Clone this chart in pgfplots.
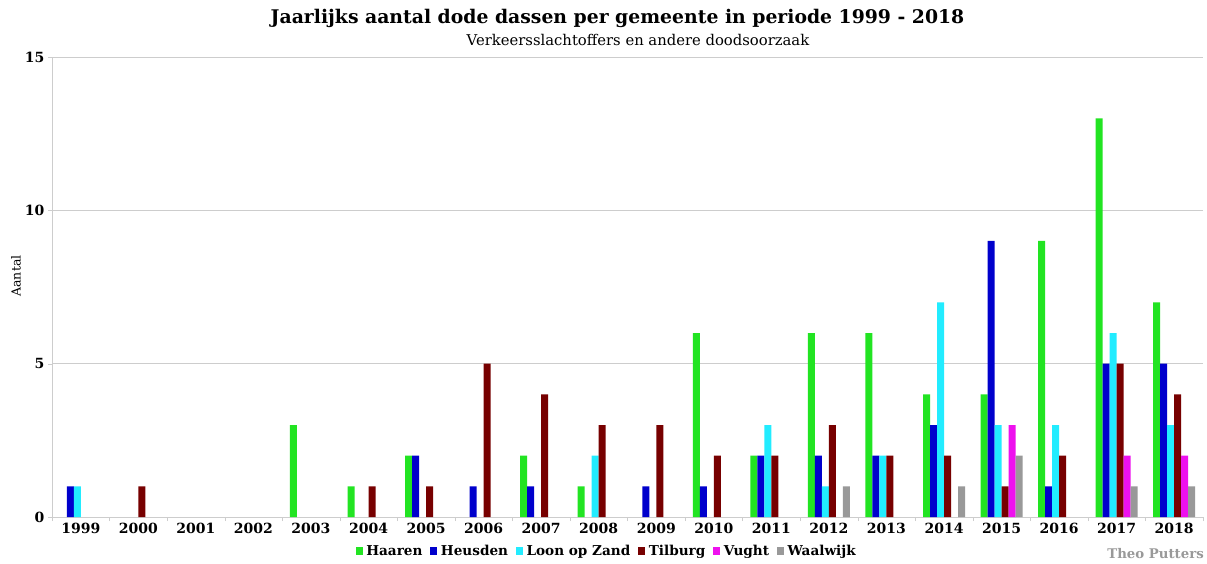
\documentclass[border=0pt]{standalone}
\usepackage{pgfplots}
\pgfplotsset{compat=1.18}
\usepackage{fontspec}
\setmainfont{DejaVu Serif}
\definecolor{cHaaren}{RGB}{34,228,34}
\definecolor{cHeusden}{RGB}{0,0,204}
\definecolor{cLoon}{RGB}{34,236,255}
\definecolor{cTilburg}{RGB}{119,0,0}
\definecolor{cVught}{RGB}{238,17,238}
\definecolor{cWaal}{RGB}{153,153,153}
\definecolor{gridc}{RGB}{205,205,205}
\begin{document}
\begin{tikzpicture}[x=1pt,y=1pt]
\useasboundingbox[fill=white] (0,0) rectangle (1207,563);
\begin{axis}[
  at={(52pt,46pt)}, anchor=south west,
  scale only axis, width=1151pt, height=460pt,
  xmin=-0.5, xmax=19.5, ymin=0, ymax=15,
  ybar=0pt, bar width=7pt,
  axis x line*=bottom, axis y line*=left,
  axis line style={gridc, line width=0.8pt},
  xtick={0,...,19},
  xticklabels={1999,2000,2001,2002,2003,2004,2005,2006,2007,2008,2009,2010,2011,2012,2013,2014,2015,2016,2017,2018},
  major x tick style={draw=none},
  minor xtick={-0.5,0.5,...,19.5},
  minor x tick style={gridc},
  minor tick length=4pt,
  ytick={0,5,10,15},
  ymajorgrids, major grid style={gridc, line width=0.8pt},
  major y tick style={gridc},
  major tick length=4pt,
  tick align=outside,
  /pgf/number format/assume math mode=true,
  ticklabel style={font=\fontsize{14}{16}\selectfont\bfseries},
  xticklabel style={yshift=1pt},
  legend columns=6,
  legend style={at={(0.482,-0.074)}, anchor=center, draw=none, fill=none,
    font=\fontsize{13.6}{16}\selectfont\bfseries,
    /tikz/every odd column/.append style={column sep=1.5pt},
    /tikz/every even column/.append style={column sep=6pt}},
  legend image code/.code={\fill[#1] (0pt,-3.5pt) rectangle (7pt,4pt);},
  every axis plot/.append style={draw=none},
]
\addplot[fill=cHaaren] coordinates {(4,3)(5,1)(6,2)(8,2)(9,1)(11,6)(12,2)(13,6)(14,6)(15,4)(16,4)(17,9)(18,13)(19,7)};
\addplot[fill=cHeusden] coordinates {(0,1)(6,2)(7,1)(8,1)(10,1)(11,1)(12,2)(13,2)(14,2)(15,3)(16,9)(17,1)(18,5)(19,5)};
\addplot[fill=cLoon] coordinates {(0,1)(9,2)(12,3)(13,1)(14,2)(15,7)(16,3)(17,3)(18,6)(19,3)};
\addplot[fill=cTilburg] coordinates {(1,1)(5,1)(6,1)(7,5)(8,4)(9,3)(10,3)(11,2)(12,2)(13,3)(14,2)(15,2)(16,1)(17,2)(18,5)(19,4)};
\addplot[fill=cVught] coordinates {(16,3)(18,2)(19,2)};
\addplot[fill=cWaal] coordinates {(13,1)(15,1)(16,2)(18,1)(19,1)};
\legend{Haaren,Heusden,Loon op Zand,Tilburg,Vught,Waalwijk}
\end{axis}
\node[rotate=90, font=\fontsize{12.5}{14}\selectfont] at (16,287) {Aantal};
\node[font=\fontsize{18.8}{21}\selectfont\bfseries] at (617.5,545) {Jaarlijks aantal dode dassen per gemeente in periode 1999 - 2018};
\node[font=\fontsize{14.8}{17}\selectfont] at (638,523) {Verkeersslachtoffers en andere doodsoorzaak};
\node[font=\fontsize{13.3}{15}\selectfont\bfseries, text=cWaal, anchor=east, inner sep=0pt] at (1204,9) {Theo Putters};
\end{tikzpicture}
\end{document}
